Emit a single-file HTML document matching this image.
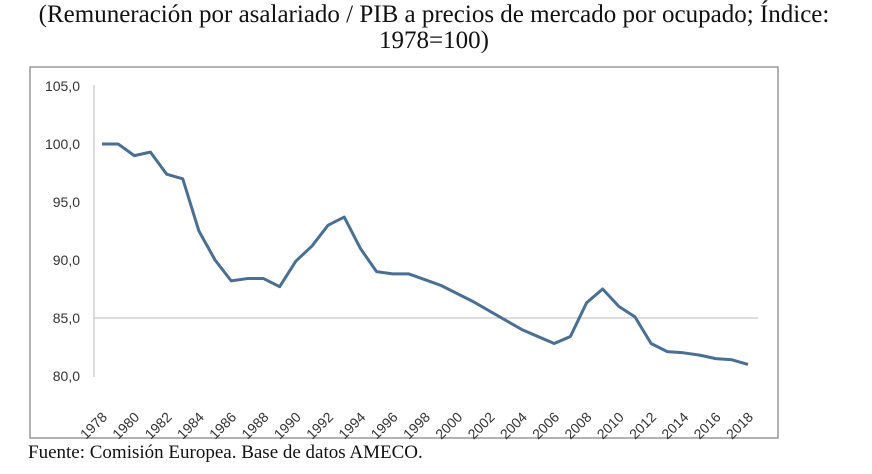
<!DOCTYPE html>
<html><head><meta charset="utf-8"><style>
body{margin:0;width:872px;height:474px;background:#fff;overflow:hidden;font-family:"Liberation Serif",serif;}
.t{position:absolute;left:0;width:872px;text-align:center;font-size:25px;color:#111;white-space:nowrap;}
</style></head><body>
<div class="t" style="top:2px;line-height:26px;left:-2px;">(Remuneración por asalariado / PIB a precios de mercado por ocupado; Índice:<br>1978=100)</div>
<svg id="c" width="872" height="474" style="position:absolute;left:0;top:0">
<rect x="30" y="67" width="748" height="371" fill="none" stroke="#999" stroke-width="1.5"/>
<line x1="94" y1="85" x2="94" y2="377" stroke="#bbb"/>
</svg>
<div style="position:absolute;left:28px;top:442px;font-size:19px;color:#111;white-space:nowrap;">Fuente: Comisión Europea. Base de datos AMECO.</div>
<script>
const years=[1978,1979,1980,1981,1982,1983,1984,1985,1986,1987,1988,1989,1990,1991,1992,1993,1994,1995,1996,1997,1998,1999,2000,2001,2002,2003,2004,2005,2006,2007,2008,2009,2010,2011,2012,2013,2014,2015,2016,2017,2018];
const values=[100,100,99.0,99.3,97.4,97.0,92.5,90.0,88.2,88.4,88.4,87.7,89.9,91.2,93.0,93.7,91.0,89.0,88.8,88.8,88.3,87.8,87.1,86.4,85.6,84.8,84.0,83.4,82.8,83.4,86.3,87.5,86.0,85.1,82.8,82.1,82.0,81.8,81.5,81.4,81.0];
const yTicks=[80,85,90,95,100,105];
const yLabels=["80,0","85,0","90,0","95,0","100,0","105,0"];
const xLabelYears=[1978,1980,1982,1984,1986,1988,1990,1992,1994,1996,1998,2000,2002,2004,2006,2008,2010,2012,2014,2016,2018];
const svg=document.getElementById('c');const NS='http://www.w3.org/2000/svg';
const X=y=>102+(y-1978)*(748-102)/40;
const Y=v=>144+(100-v)*11.6;
function mk(t,a){const e=document.createElementNS(NS,t);for(const k in a)e.setAttribute(k,a[k]);svg.appendChild(e);return e;}
const g=mk('line',{x1:94,x2:758,y1:Y(85),y2:Y(85),stroke:'#bbb'});


yTicks.forEach((v,i)=>{const t=mk('text',{x:80,y:Y(v)+5,'text-anchor':'end','font-size':'14','font-family':'Liberation Sans, sans-serif',fill:'#333'});t.textContent=yLabels[i];

});
xLabelYears.forEach(yr=>{const x=X(yr),y=394;const t=mk('text',{x:x+6,y:y+24,'text-anchor':'end','font-size':'14','font-family':'Liberation Sans, sans-serif',fill:'#333',transform:`rotate(-45 ${x+6} ${y+24})`});t.textContent=yr;

});
const p=mk('polyline',{points:years.map((y,i)=>X(y)+','+Y(values[i])).join(' '),fill:'none',stroke:'#4a6f95','stroke-width':'3','stroke-linejoin':'round'});


</script>
</body></html>
